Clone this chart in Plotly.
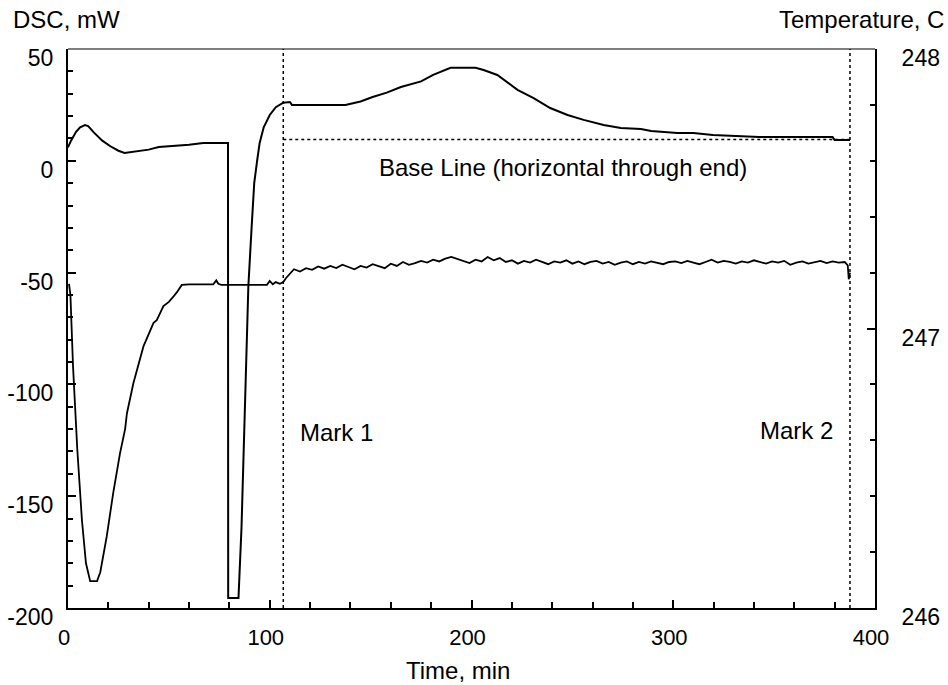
import plotly.graph_objects as go

# ---- DSC signal (mW) vs time (min) ----
dsc_time = [0, 1.5, 4, 6, 8.4, 10, 13, 17, 21, 25, 28, 32, 35, 40, 45, 50, 53, 60, 67, 79.3,
            79.4, 84.5, 86, 87, 89.4, 91, 92.3, 93.8, 95, 97, 100, 103, 106.7, 110, 111,
            137.5, 145, 151, 158, 165, 175, 181, 185, 189.6, 202, 206, 212.8, 217, 222.8,
            230.8, 239, 247.6, 255.6, 265.5, 274, 284, 289, 302, 310, 319.6, 342.5, 379,
            380, 387.6]
dsc_mw = [6, 9, 13, 15, 16, 15.5, 12.5, 9, 6.5, 4.5, 3.5, 4, 4.5, 5, 6.2, 6.5, 7, 7.2, 8, 8,
          -195.5, -195.5, -164, -129, -56, -30, -10, 0.4, 8, 15, 20.5, 24, 26, 26.3, 25,
          25, 26.5, 28.5, 30.5, 33, 35.5, 38.4, 40, 41.6, 41.6, 40.6, 38.4, 35.5, 31.7,
          28, 23.6, 20.5, 18.3, 16, 14.7, 14.2, 13.3, 12.4, 12.4, 11.5, 10.6, 10.6,
          9.3, 9.3]

# ---- Temperature (C) vs time (min) ----
temp_time = [0.5, 1.2, 2.5, 4.6, 6.9, 8.9, 11, 14.4, 16, 19.2, 22.4, 25.8, 28.3, 29.2, 32.4,
             37.4, 42.4, 44, 47.3, 50, 52, 54, 56.4, 60, 72, 73.5, 74.5, 76, 98.6,
             100, 101.5, 103, 105, 106.7, 108, 110,
             112, 115, 118, 121, 124, 127, 130, 133, 136, 139, 142, 145, 148, 151, 154, 157,
             160, 163, 166, 169, 172, 175, 178, 181, 184, 187, 190, 193, 196, 199, 202, 205,
             208, 211, 214, 217, 220, 223, 226, 229, 232, 235, 238, 241, 244, 247, 250, 253,
             256, 259, 262, 265, 268, 271, 274, 277, 280, 283, 286, 289, 292, 295, 298, 301,
             304, 307, 310, 313, 316, 319, 322, 325, 328, 331, 334, 337, 340, 343, 346, 349,
             352, 355, 358, 361, 364, 367, 370, 373, 376, 379, 382, 385, 386.5, 387, 387.6]
temp_c = [247.16, 247.12, 246.864, 246.568, 246.315, 246.16, 246.096, 246.096, 246.128,
          246.256, 246.411, 246.554, 246.64, 246.696, 246.804, 246.936, 247.02, 247.03,
          247.08, 247.095, 247.112, 247.13, 247.156, 247.158, 247.158, 247.172, 247.16,
          247.156, 247.156,
          247.17, 247.158, 247.166, 247.16, 247.166, 247.18, 247.196,
          247.212, 247.204, 247.216, 247.210, 247.222, 247.214, 247.224, 247.216, 247.228,
          247.220, 247.212, 247.224, 247.218, 247.230, 247.222, 247.216,
          247.232, 247.224, 247.238, 247.228, 247.234, 247.242, 247.236, 247.246, 247.240,
          247.250, 247.256, 247.248, 247.240, 247.234, 247.246, 247.240,
          247.256, 247.244, 247.252, 247.238, 247.244, 247.232, 247.242, 247.236, 247.246,
          247.238, 247.230, 247.240, 247.236, 247.244, 247.232, 247.240,
          247.230, 247.238, 247.242, 247.232, 247.238, 247.228, 247.236, 247.240, 247.230,
          247.238, 247.232, 247.240, 247.236, 247.230, 247.238, 247.240,
          247.234, 247.242, 247.236, 247.230, 247.238, 247.246, 247.236, 247.242, 247.238,
          247.232, 247.240, 247.236, 247.244, 247.238, 247.232, 247.240,
          247.236, 247.242, 247.228, 247.236, 247.240, 247.232, 247.238, 247.242, 247.234,
          247.240, 247.236, 247.238, 247.226, 247.176, 247.20]

# ---- Marks and base line ----
mark_times = [106.7, 387.6]
mark_labels = ["Mark 1", "Mark 2"]
baseline_mw = 9.5

x_tickvals = [0, 100, 200, 300, 400]
y_tickvals = [50, 0, -50, -100, -150, -200]
y_ticktext = ["50", "0", "-50", "-100", "-150", "-200"]
y2_tickvals = [246, 247, 248]

FONT = "Arial, Liberation Sans, sans-serif"
TEXT_SIZE = 24
TICK_SIZE = 23

fig = go.Figure()

fig.add_trace(go.Scatter(x=dsc_time, y=dsc_mw, mode="lines",
                         line=dict(color="black", width=2), yaxis="y", showlegend=False))
fig.add_trace(go.Scatter(x=temp_time, y=temp_c, mode="lines",
                         line=dict(color="black", width=1.8), yaxis="y2", showlegend=False))

# base line
fig.add_trace(go.Scatter(x=[mark_times[0], mark_times[1]], y=[baseline_mw, baseline_mw],
                         mode="lines", line=dict(color="black", width=1.5, dash="dot"),
                         yaxis="y", showlegend=False))

shapes = []
for mt in mark_times:
    shapes.append(dict(type="line", xref="x", yref="paper", x0=mt, x1=mt, y0=0, y1=1,
                       line=dict(color="black", width=1.5, dash="dot")))
# thin top border
shapes.append(dict(type="line", xref="paper", yref="paper", x0=0, x1=1, y0=1, y1=1,
                   line=dict(color="black", width=1)))

annotations = [
    dict(text="DSC, mW", xref="paper", yref="paper", x=-0.071, y=1.052,
         xanchor="left", yanchor="middle", showarrow=False),
    dict(text="Temperature, C", xref="paper", yref="paper", x=1.088, y=1.052,
         xanchor="right", yanchor="middle", showarrow=False),
    dict(text="Time, min", xref="paper", yref="paper", x=0.4833, y=-0.112,
         xanchor="center", yanchor="middle", showarrow=False),
    dict(text="Base Line (horizontal through end)", xref="x", yref="y", x=245.4, y=-3.2,
         xanchor="center", yanchor="middle", showarrow=False),
    dict(text=mark_labels[0], xref="x", yref="y", x=114, y=-121.3,
         xanchor="left", yanchor="middle", showarrow=False),
    dict(text=mark_labels[1], xref="x", yref="y", x=380, y=-120.4,
         xanchor="right", yanchor="middle", showarrow=False),
]

fig.update_layout(
    width=948, height=685,
    margin=dict(l=68, r=73, t=49, b=77),
    paper_bgcolor="white", plot_bgcolor="white",
    font=dict(family=FONT, size=TEXT_SIZE, color="black"),
    shapes=shapes, annotations=annotations,
    xaxis=dict(range=[0, 400], tickvals=x_tickvals, ticks="inside", ticklen=8, tickwidth=2,
               tickcolor="black", showline=True, linecolor="black", linewidth=2,
               showgrid=False, zeroline=False, ticklabelstandoff=9, ticklabelshift=-4,
               automargin=False, tickfont=dict(size=22),
               minor=dict(dtick=20, ticks="inside", ticklen=6, tickwidth=1.5,
                          tickcolor="black", showgrid=False)),
    yaxis=dict(range=[-200, 50], tickvals=y_tickvals, ticktext=y_ticktext,
               ticks="inside", ticklen=8, tickwidth=2,
               tickcolor="black", showline=True, linecolor="black", linewidth=2,
               showgrid=False, zeroline=False, ticklabelstandoff=8, ticklabelshift=9,
               automargin=False, tickfont=dict(size=TICK_SIZE),
               minor=dict(dtick=10, ticks="inside", ticklen=5, tickwidth=1.5,
                          tickcolor="black", showgrid=False)),
    yaxis2=dict(range=[246, 248], tickvals=y2_tickvals, overlaying="y", side="right",
                ticks="inside", ticklen=8, tickwidth=2, tickcolor="black",
                showline=True, linecolor="black", linewidth=2, showgrid=False,
                zeroline=False, ticklabelstandoff=20, ticklabelshift=9,
                automargin=False, tickfont=dict(size=TICK_SIZE),
                minor=dict(dtick=0.2, ticks="inside", ticklen=5, tickwidth=1.5,
                           tickcolor="black", showgrid=False)),
)

fig.write_html("out.html")
